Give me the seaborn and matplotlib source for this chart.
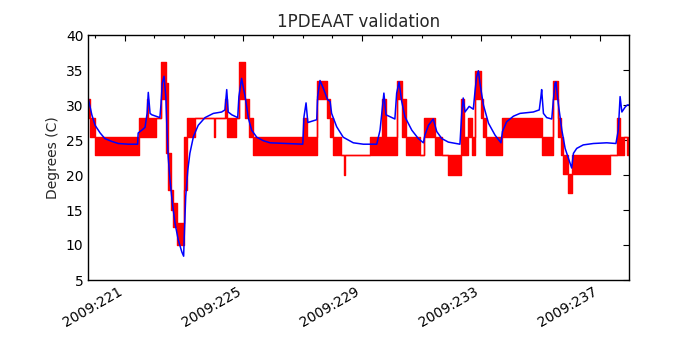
import numpy as np
import matplotlib
matplotlib.use("Agg")
import matplotlib.pyplot as plt
import seaborn as sns
from matplotlib.ticker import FixedLocator, MultipleLocator, FuncFormatter

# telemetry: red = measured (quantized, fast-toggling -> envelope lo/hi per segment)
red_start = [219.78, 219.84, 220.01, 221.50, 221.75, 221.80, 222.05, 222.23, 222.39, 222.47,
             222.56, 222.64, 222.76, 223.01, 223.09, 223.37, 224.01, 224.04, 224.38, 224.44,
             224.74, 224.85, 225.06, 225.19, 225.34, 227.02, 227.13, 227.47, 227.81, 227.92,
             228.03, 228.29, 228.39, 228.41, 229.26, 229.67, 229.79, 230.16, 230.35, 230.46,
             230.95, 231.09, 231.45, 231.68, 231.88, 232.33, 232.41, 232.57, 232.69, 232.80,
             233.00, 233.08, 233.16, 233.72, 235.06, 235.43, 235.58, 235.69, 235.77, 235.94,
             236.07, 237.34, 237.57, 237.68, 237.82, 237.90, 237.99]
red_lo = [28.2, 25.5, 22.8, 25.5, 25.5, 25.5, 28.2, 30.8, 23.1, 17.9,
          15.0, 12.6, 10.0, 17.9, 25.5, 28.2, 25.5, 28.2, 28.2, 25.5,
          28.2, 30.8, 28.2, 25.5, 22.8, 22.8, 22.8, 30.8, 28.2, 25.5,
          22.8, 22.8, 20.0, 22.8, 22.8, 22.8, 22.8, 30.8, 25.5, 22.8,
          22.8, 25.5, 22.8, 22.8, 20.0, 22.8, 22.8, 25.5, 22.8, 30.8,
          28.2, 25.5, 22.8, 25.5, 22.8, 30.8, 25.5, 22.8, 20.1, 17.4,
          20.1, 22.8, 22.8, 22.8, 25.5, 22.8, 22.8]
red_hi = [30.8, 28.2, 25.5, 28.2, 30.8, 28.2, 28.2, 36.1, 33.1, 23.1,
          17.9, 16.0, 13.1, 25.5, 28.2, 28.2, 28.2, 28.2, 30.8, 28.2,
          28.2, 36.1, 30.8, 28.2, 25.5, 28.2, 25.5, 33.4, 30.8, 28.2,
          25.5, 22.8, 22.8, 22.8, 25.5, 30.8, 25.5, 33.4, 30.8, 25.5,
          22.8, 28.2, 25.5, 22.8, 22.8, 30.8, 25.5, 28.2, 25.5, 34.8,
          30.8, 28.2, 25.5, 28.2, 25.5, 33.4, 28.2, 25.5, 22.8, 20.1,
          22.8, 22.8, 28.2, 25.5, 25.5, 25.5, 25.5]

# model prediction (blue)
model_t = [219.78, 219.90, 220.01, 220.18, 220.34, 220.57, 220.79, 221.13, 221.44, 221.46,
           221.58, 221.69, 221.76, 221.80, 221.86, 221.92, 222.19, 222.23, 222.27, 222.33,
           222.39, 222.43, 222.47, 222.53, 222.61, 222.70, 222.81, 222.93, 222.99, 223.01,
           223.06, 223.13, 223.20, 223.32, 223.48, 223.71, 223.99, 224.27, 224.38, 224.44,
           224.49, 224.61, 224.81, 224.85, 224.94, 225.06, 225.17, 225.28, 225.45, 225.67,
           225.90, 226.46, 227.00, 227.04, 227.11, 227.17, 227.47, 227.50, 227.58, 227.69,
           227.83, 227.92, 227.97, 228.14, 228.36, 228.70, 229.04, 229.49, 229.60, 229.73,
           229.80, 230.10, 230.16, 230.24, 230.33, 230.44, 230.67, 230.89, 231.06, 231.11,
           231.23, 231.39, 231.51, 231.68, 231.90, 232.29, 232.35, 232.40, 232.46, 232.60,
           232.74, 232.80, 232.85, 232.91, 232.97, 233.08, 233.25, 233.47, 233.67, 233.72,
           233.86, 234.09, 234.31, 234.76, 234.96, 235.01, 235.04, 235.10, 235.21, 235.38,
           235.43, 235.49, 235.52, 235.60, 235.72, 235.83, 235.94, 236.05, 236.11, 236.22,
           236.44, 236.78, 237.23, 237.54, 237.62, 237.68, 237.74, 237.85, 237.92, 237.99]
model_val = [30.9, 28.6, 27.1, 26.0, 25.2, 24.8, 24.5, 24.4, 24.4, 26.0,
             26.4, 26.8, 28.8, 31.8, 28.8, 28.6, 28.2, 30.2, 33.1, 34.1,
             31.2, 26.4, 22.6, 19.3, 16.0, 13.1, 10.7, 9.0, 8.4, 11.2,
             16.9, 20.7, 23.1, 25.5, 27.1, 28.2, 28.8, 29.0, 29.3, 32.2,
             29.0, 28.6, 28.2, 31.2, 33.8, 31.2, 28.1, 26.4, 25.4, 24.9,
             24.6, 24.5, 24.4, 28.3, 30.3, 27.5, 27.9, 31.2, 33.5, 32.4,
             30.8, 30.5, 28.8, 26.9, 25.4, 24.6, 24.4, 24.4, 26.4, 31.7,
             28.6, 28.0, 31.7, 33.3, 30.5, 28.3, 26.4, 25.2, 24.6, 25.7,
             27.1, 28.0, 26.2, 25.2, 24.7, 24.4, 28.8, 31.0, 29.0, 29.8,
             29.4, 32.1, 34.0, 34.9, 32.9, 30.0, 27.4, 25.7, 24.6, 26.2,
             27.6, 28.4, 28.8, 29.0, 29.3, 31.0, 32.2, 28.8, 28.2, 28.0,
             30.5, 33.1, 33.3, 30.2, 26.4, 23.8, 22.4, 21.0, 23.1, 23.8,
             24.3, 24.5, 24.6, 24.5, 26.4, 31.2, 29.0, 29.7, 30.0, 30.0]

# labelled day-of-year ticks
tick_days = [221, 225, 229, 233, 237]

sns.set_style("white")
plt.rcParams["font.family"] = ["DejaVu Sans"]

fig = plt.figure(figsize=(7, 3.5), dpi=100)
ax = fig.add_axes([0.1261, 0.2, 0.899 - 0.1261, 0.7])

# measured telemetry envelope
ax.fill_between(red_start, red_lo, red_hi, step="post", color="#ff0000", linewidth=0)
sns.lineplot(x=red_start, y=red_lo, ax=ax, color="#ff0000", linewidth=1.0,
             drawstyle="steps-post", estimator=None, sort=False)
sns.lineplot(x=red_start, y=red_hi, ax=ax, color="#ff0000", linewidth=1.0,
             drawstyle="steps-post", estimator=None, sort=False)

# model
sns.lineplot(x=model_t, y=model_val, ax=ax, color="#0000ff", linewidth=1.1,
             estimator=None, sort=False)

ax.set_xlim(219.78, 237.99)
ax.set_ylim(5, 40)
ax.xaxis.set_major_locator(FixedLocator(tick_days))
ax.xaxis.set_minor_locator(MultipleLocator(1))
ax.xaxis.set_major_formatter(FuncFormatter(lambda v, p: "2009:%d" % round(v)))
ax.yaxis.set_major_locator(MultipleLocator(5))
ax.tick_params(which="both", direction="in", top=True, right=True, labelsize=10, colors="black")
ax.tick_params(which="major", length=4, width=0.8)
ax.tick_params(which="minor", length=2, width=0.8)
for lbl in ax.get_xticklabels():
    lbl.set_rotation(30)
    lbl.set_ha("right")
for sp in ax.spines.values():
    sp.set_color("black")
    sp.set_linewidth(1.0)

ax.set_ylabel("Degrees (C)", fontsize=10)
ax.set_title("1PDEAAT validation", fontsize=12)

fig.savefig("out.png", dpi=100, facecolor="white")
